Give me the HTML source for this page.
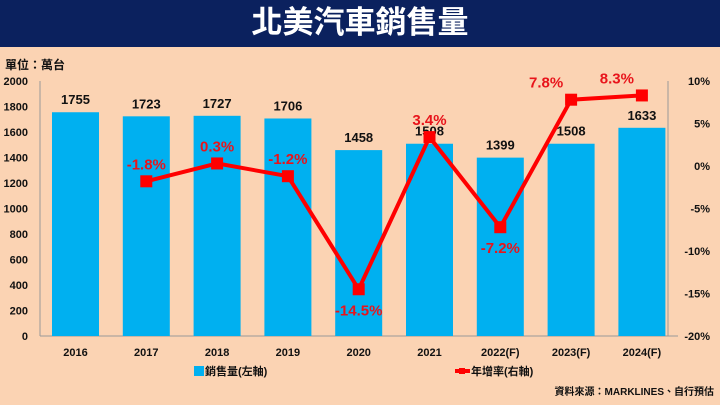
<!DOCTYPE html>
<html><head><meta charset="utf-8"><style>
body{margin:0;width:720px;height:405px;background:#fbd3b3;overflow:hidden;font-family:"Liberation Sans","Noto Sans CJK TC",sans-serif;}
#title{position:absolute;left:0;top:0;width:720px;height:47px;background:#0b215e;color:#fff;font-size:31px;font-weight:bold;text-align:center;line-height:46px;}
</style></head><body>
<div id="title">北美汽車銷售量</div>
<svg id="c" width="720" height="405" style="position:absolute;left:0;top:0"></svg>
<script>
const categories=["2016","2017","2018","2019","2020","2021","2022(F)","2023(F)","2024(F)"];
const sales=[1755,1723,1727,1706,1458,1508,1399,1508,1633];
const growth=[null,-1.8,0.3,-1.2,-14.5,3.4,-7.2,7.8,8.3];
const growthLabels=["","-1.8%","0.3%","-1.2%","-14.5%","3.4%","-7.2%","7.8%","8.3%"];
const leftTicks=[0,200,400,600,800,1000,1200,1400,1600,1800,2000];
const rightTicks=[-20,-15,-10,-5,0,5,10];
const rightTickLabels=["-20%","-15%","-10%","-5%","0%","5%","10%"];
const svg=document.getElementById('c');const NS="http://www.w3.org/2000/svg";
const y0=336,y1=81;
const yL=v=>y0-(v/2000)*(y0-y1);
const yR=v=>y0-((v+20)/30)*(y0-y1);
const xC=i=>75.5+i*70.8;
function mk(t,a,txt){const e=document.createElementNS(NS,t);for(const k in a)e.setAttribute(k,a[k]);if(txt!=null)e.textContent=txt;svg.appendChild(e);return e;}
let e;
e=mk('line',{x1:40,y1:y1,x2:40,y2:y0,stroke:'#999'});


e=mk('line',{x1:668,y1:y1,x2:668,y2:y0,stroke:'#999'});


e=mk('line',{x1:40,y1:y0,x2:678,y2:y0,stroke:'#999'});


leftTicks.forEach(v=>{e=mk('text',{x:28,y:yL(v)+4,'text-anchor':'end','font-size':11,'font-weight':'bold',fill:'#111'},v);

});
rightTicks.forEach((v,i)=>{e=mk('text',{x:710,y:yR(v)+4,'text-anchor':'end','font-size':11,'font-weight':'bold',fill:'#111'},rightTickLabels[i]);

});
categories.forEach((c,i)=>{
e=mk('rect',{x:xC(i)-23.5,y:yL(sales[i]),width:47,height:y0-yL(sales[i]),fill:'#00b0f0'});


e=mk('text',{x:xC(i),y:yL(sales[i])-8,'text-anchor':'middle','font-size':13,'font-weight':'bold',fill:'#111'},sales[i]);


e=mk('text',{x:xC(i),y:356,'text-anchor':'middle','font-size':11,'font-weight':'bold',fill:'#111'},c);


});
let pts=[];growth.forEach((g,i)=>{if(g!=null)pts.push(xC(i)+','+yR(g));});
e=mk('polyline',{points:pts.join(' '),fill:'none',stroke:'#ff0000','stroke-width':4});


growth.forEach((g,i)=>{if(g==null)return;
e=mk('rect',{x:xC(i)-6,y:yR(g)-6,width:12,height:12,fill:'#ff0000'});


const below=(g<-10)||(g===-7.2);
const dx=(i>=7)?-25:0;
e=mk('text',{x:xC(i)+dx,y:below?yR(g)+26:yR(g)-12,'text-anchor':'middle','font-size':15,'font-weight':'bold',fill:'#e8141b'},growthLabels[i]);


});
e=mk('text',{x:5,y:69,'font-size':12,'font-weight':'bold',fill:'#111'},'單位：萬台');


e=mk('rect',{x:194,y:366,width:10,height:10,fill:'#00b0f0'});


e=mk('text',{x:205,y:375,'font-size':11,'font-weight':'bold',fill:'#111'},'銷售量(左軸)');


e=mk('line',{x1:455,y1:371,x2:470,y2:371,stroke:'#ff0000','stroke-width':4});


e=mk('rect',{x:459,y:368,width:6,height:6,fill:'#ff0000'});


e=mk('text',{x:471,y:375,'font-size':11,'font-weight':'bold',fill:'#111'},'年增率(右軸)');


e=mk('text',{x:714,y:395,'text-anchor':'end','font-size':10,'font-weight':'bold',fill:'#111'},'資料來源：MARKLINES、自行預估');


</script>
</body></html>
